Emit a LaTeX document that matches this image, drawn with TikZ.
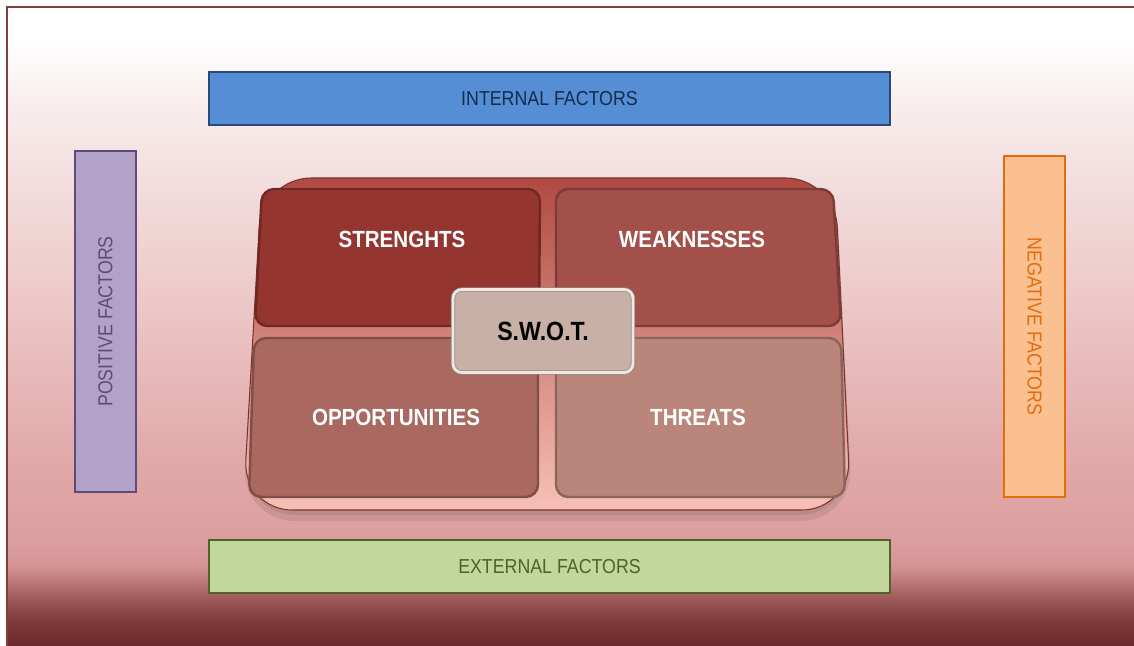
\documentclass[tikz,border=0pt]{standalone}
\usepackage{fontspec}
\setmainfont{Liberation Sans}[FakeStretch=0.88]
\usetikzlibrary{positioning}

\definecolor{slideedge}{HTML}{7F3F3F}
\definecolor{bgbot}{HTML}{6B2A2C}
\definecolor{bgdeep}{HTML}{7E3A3B}
\definecolor{bgdark}{HTML}{9C5858}
\definecolor{bgfade}{HTML}{C07C7C}
\definecolor{bgrose}{HTML}{D29494}
\definecolor{bgpink}{HTML}{DC9E9E}
\definecolor{bglow}{HTML}{E2AAAA}
\definecolor{bgmid}{HTML}{EDC8C8}
\definecolor{bgup}{HTML}{F3DEDE}
\definecolor{bgtop}{HTML}{F9EEEE}
\definecolor{intfill}{HTML}{558ED5}
\definecolor{intline}{HTML}{2A4A75}
\definecolor{inttext}{HTML}{142C4C}
\definecolor{extfill}{HTML}{C3D69B}
\definecolor{extline}{HTML}{4F6228}
\definecolor{posfill}{HTML}{B3A2C7}
\definecolor{posline}{HTML}{604A7B}
\definecolor{negfill}{HTML}{FAC090}
\definecolor{negline}{HTML}{E46C0A}
\definecolor{traytop}{HTML}{B04A42}
\definecolor{traymid}{HTML}{F0837A}
\definecolor{traybot}{HTML}{F7C0B6}
\definecolor{strfill}{HTML}{953530}
\definecolor{weakfill}{HTML}{A4504A}
\definecolor{oppfill}{HTML}{A96860}
\definecolor{thrfill}{HTML}{BA867B}
\definecolor{swotfill}{HTML}{C8B0A6}
\definecolor{swotrim}{HTML}{F0E7DD}

\pgfdeclareverticalshading{slidebg}{100bp}{%
  color(0bp)=(bgbot); color(25bp)=(bgbot); color(27bp)=(bgdeep);
  color(28.6bp)=(bgdark); color(30.2bp)=(bgfade); color(31.3bp)=(bgrose);
  color(33.3bp)=(bgpink); color(40.3bp)=(bglow); color(52.1bp)=(bgmid);
  color(61.5bp)=(bgup); color(67.7bp)=(bgtop); color(72.4bp)=(white);
  color(100bp)=(white)}

\begin{document}
\begin{tikzpicture}[x=0.02cm, y=-0.02cm,
    factor/.style={draw, rectangle, line width=1pt, inner sep=0pt, font=\fontsize{11.5}{13}\selectfont},
    quad/.style={rounded corners=7pt, line width=1.4pt},
    qlabel/.style={text=white, font=\bfseries\fontsize{13.3}{15}\selectfont},
    swotbox/.style={rectangle, rounded corners=5pt, fill=swotfill, draw=black!45, double=swotrim, double distance=1.6pt, minimum width=3.6cm, minimum height=1.66cm, font=\bfseries\fontsize{15}{17}\selectfont}
]
    \useasboundingbox (0,0) rectangle (1134,646);

    % slide background
    \shade[shading=slidebg] (7,7) rectangle (1134,646);
    \draw[slideedge, line width=1pt] (7,646) -- (7,7) -- (1134,7);

    % factor bars
    \node[factor, fill=intfill, draw=intline, text=inttext, minimum width=13.62cm, minimum height=1.06cm] (internal) at (549.5,98.5) {INTERNAL FACTORS};
    \node[factor, fill=extfill, draw=extline, text=extline, minimum width=13.62cm, minimum height=1.06cm] (external) at (549.5,566.5) {EXTERNAL FACTORS};
    \node[factor, fill=posfill, draw=posline, text=posline, rotate=90, minimum width=6.82cm, minimum height=1.22cm] (positive) at (105.5,321.5) {POSITIVE FACTORS};
    \node[factor, fill=negfill, draw=negline, text=negline, rotate=-90, minimum width=6.82cm, minimum height=1.22cm] (negative) at (1034.5,326.5) {NEGATIVE FACTORS};

    % tray with shadow
    \fill[black, opacity=0.08, rounded corners=30pt] (262,190) -- (836,190) -- (853,521) -- (242,521) -- cycle;
    \fill[black, opacity=0.08, rounded corners=30pt] (262,184) -- (836,184) -- (852,515) -- (243,515) -- cycle;
    \shade[top color=traytop, middle color=traymid, bottom color=traybot, draw=traytop!70!black, line width=0.6pt, rounded corners=28pt]
        (262,178) -- (835,178) -- (851,510) -- (243,510) -- cycle;

    % quadrants
    \filldraw[quad, fill=strfill, draw=strfill!75!black] (262,189) -- (540,189) -- (539,326) -- (255,326) -- cycle;
    \filldraw[quad, fill=weakfill, draw=weakfill!75!black] (556,189) -- (833,189) -- (841,326) -- (556,326) -- cycle;
    \filldraw[quad, fill=oppfill, draw=oppfill!75!black] (254,338) -- (538,338) -- (538,497) -- (249,497) -- cycle;
    \filldraw[quad, fill=thrfill, draw=thrfill!75!black] (556,338) -- (841,338) -- (845,497) -- (556,497) -- cycle;

    \node[qlabel] (strengths) at (402,239) {STRENGHTS};
    \node[qlabel] (weaknesses) at (692,239) {WEAKNESSES};
    \node[qlabel] (opportunities) at (396,417) {OPPORTUNITIES};
    \node[qlabel] (threats) at (698,417) {THREATS};

    % centre label
    \node[swotbox] (swot) at (543,331) {S.W.O.T.};
\end{tikzpicture}
\end{document}
